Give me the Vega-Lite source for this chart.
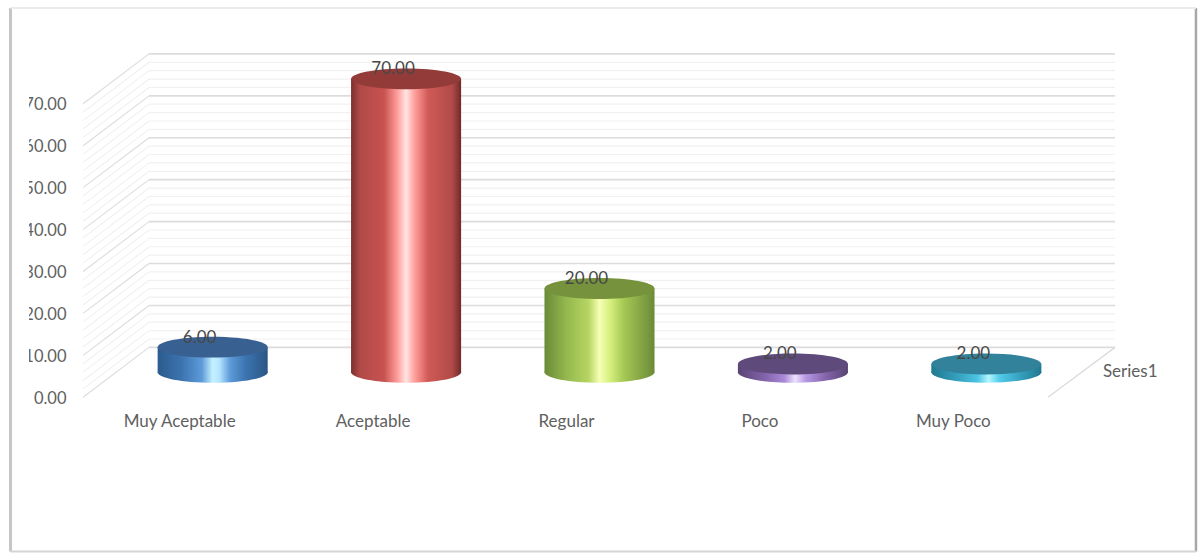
{
  "$schema": "https://vega.github.io/schema/vega-lite/v6.json",
  "width": 1199,
  "height": 554,
  "autosize": {"type": "fit", "contains": "padding"},
  "padding": 0,
  "background": "#ffffff",
  "view": {"stroke": null},
  "config": {"font": "Lato", "axis": {"grid": false, "domain": false, "ticks": false, "title": null}},
  "datasets": {
    "results": [
      {"category": "Muy Aceptable", "value": 6},
      {"category": "Aceptable", "value": 70},
      {"category": "Regular", "value": 20},
      {"category": "Poco", "value": 2},
      {"category": "Muy Poco", "value": 2}
    ],
    "levels": [
      {"level": 0, "rank": "major"}, {"level": 2, "rank": "minor"}, {"level": 4, "rank": "minor"}, {"level": 6, "rank": "minor"}, {"level": 8, "rank": "minor"},
      {"level": 10, "rank": "major"}, {"level": 12, "rank": "minor"}, {"level": 14, "rank": "minor"}, {"level": 16, "rank": "minor"}, {"level": 18, "rank": "minor"},
      {"level": 20, "rank": "major"}, {"level": 22, "rank": "minor"}, {"level": 24, "rank": "minor"}, {"level": 26, "rank": "minor"}, {"level": 28, "rank": "minor"},
      {"level": 30, "rank": "major"}, {"level": 32, "rank": "minor"}, {"level": 34, "rank": "minor"}, {"level": 36, "rank": "minor"}, {"level": 38, "rank": "minor"},
      {"level": 40, "rank": "major"}, {"level": 42, "rank": "minor"}, {"level": 44, "rank": "minor"}, {"level": 46, "rank": "minor"}, {"level": 48, "rank": "minor"},
      {"level": 50, "rank": "major"}, {"level": 52, "rank": "minor"}, {"level": 54, "rank": "minor"}, {"level": 56, "rank": "minor"}, {"level": 58, "rank": "minor"},
      {"level": 60, "rank": "major"}, {"level": 62, "rank": "minor"}, {"level": 64, "rank": "minor"}, {"level": 66, "rank": "minor"}, {"level": 68, "rank": "minor"},
      {"level": 70, "rank": "major"}
    ]
  },
  "resolve": {"scale": {"x": "independent", "y": "independent"}, "axis": {"x": "independent", "y": "independent"}},
  "layer": [
    {
      "layer": [
        {
          "data": {"name": "levels"},
          "transform": [{"calculate": "datum.level + 11.905", "as": "back"}],
          "mark": {"type": "rule"},
          "encoding": {
            "x": {"datum": -0.6706, "type": "quantitative", "scale": {"domain": [-1.1, 5.1], "nice": false, "zero": false}, "axis": null},
            "x2": {"datum": -0.3294},
            "y": {
              "field": "level", "type": "quantitative",
              "scale": {"domain": [-37.143, 94.762], "nice": false, "zero": false},
              "axis": {
                "orient": "left",
                "values": [0, 10, 20, 30, 40, 50, 60, 70],
                "format": ".2f",
                "offset": -70,
                "labelPadding": 4,
                "labelOffset": 1,
                "labelFont": "Lato",
                "labelFontSize": 16.5,
                "labelColor": "#606060"
              }
            },
            "y2": {"field": "back"},
            "color": {"field": "rank", "type": "nominal", "scale": {"domain": ["major", "minor"], "range": ["#dcdcdc", "#f1f1f1"]}, "legend": null},
            "strokeWidth": {"value": 1.1}
          }
        },
        {
          "data": {"name": "levels"},
          "transform": [{"calculate": "datum.level + 11.905", "as": "back"}],
          "mark": {"type": "rule"},
          "encoding": {
            "x": {"datum": -0.3294, "type": "quantitative"},
            "x2": {"datum": 4.666},
            "y": {"field": "back", "type": "quantitative"},
            "color": {"field": "rank", "type": "nominal", "legend": null},
            "strokeWidth": {"field": "rank", "type": "nominal", "scale": {"domain": ["major", "minor"], "range": [1.6, 1.2]}, "legend": null}
          }
        },
        {
          "data": {"values": [{"level": 0}]},
          "transform": [{"calculate": "datum.level + 11.905", "as": "back"}],
          "mark": {"type": "rule", "color": "#dcdcdc", "strokeWidth": 1.3},
          "encoding": {
            "x": {"datum": 4.319, "type": "quantitative"},
            "x2": {"datum": 4.666},
            "y": {"field": "level", "type": "quantitative"},
            "y2": {"field": "back"}
          }
        },
        {
          "data": {"values": [{"depth": "Series1"}]},
          "mark": {"type": "text", "align": "left", "baseline": "middle", "font": "Lato", "fontSize": 17, "color": "#606060"},
          "encoding": {
            "x": {"datum": 4.603, "type": "quantitative"},
            "y": {"datum": 6.0, "type": "quantitative"},
            "text": {"field": "depth"}
          }
        },
        {
          "data": {"values": [{"part": "margin"}]},
          "mark": {"type": "rect", "color": "#ffffff"},
          "encoding": {
            "x": {"datum": -1.0274, "type": "quantitative"},
            "x2": {"datum": -0.9498},
            "y": {"datum": 5, "type": "quantitative"},
            "y2": {"datum": 80}
          }
        },
        {
          "data": {"values": [{"edge": "left"}]},
          "mark": {"type": "rule", "color": "#c6c6c6", "strokeWidth": 3},
          "encoding": {
            "x": {"datum": -1.0457, "type": "quantitative"},
            "y": {"datum": 92.86, "type": "quantitative"},
            "y2": {"datum": -36.79}
          }
        },
        {
          "data": {"values": [{"edge": "right"}]},
          "mark": {"type": "rule", "color": "#a8a8a8", "strokeWidth": 2.5},
          "encoding": {
            "x": {"datum": 5.0843, "type": "quantitative"},
            "y": {"datum": 92.86, "type": "quantitative"},
            "y2": {"datum": -36.79}
          }
        },
        {
          "data": {"values": [{"edge": "top"}]},
          "mark": {"type": "rule", "color": "#ebebeb", "strokeWidth": 2},
          "encoding": {
            "x": {"datum": -1.0457, "type": "quantitative"},
            "x2": {"datum": 5.0843},
            "y": {"datum": 92.86, "type": "quantitative"}
          }
        },
        {
          "data": {"values": [{"edge": "bottom"}]},
          "mark": {"type": "rule", "color": "#d4d4d4", "strokeWidth": 2},
          "encoding": {
            "x": {"datum": -1.0457, "type": "quantitative"},
            "x2": {"datum": 5.0843},
            "y": {"datum": -36.79, "type": "quantitative"}
          }
        }
      ]
    },
    {
      "data": {"name": "results"},
      "encoding": {
        "x": {
          "field": "category", "type": "nominal",
          "scale": {"type": "band", "domain": ["Muy Aceptable", "Aceptable", "Regular", "Poco", "Muy Poco"], "paddingInner": 0.431, "paddingOuter": 0.815},
          "axis": {"orient": "bottom", "labelAngle": 0, "offset": -140, "labelPadding": 0, "labelOffset": -33, "labelFont": "Lato", "labelFontSize": 17, "labelColor": "#606060"}
        },
        "y": {
          "field": "value", "type": "quantitative", "stack": null,
          "scale": {"domain": [-43.095, 88.81], "nice": false, "zero": false},
          "axis": null
        }
      },
      "layer": [
        {
          "transform": [{"filter": "datum.category === 'Muy Aceptable'"}],
          "layer": [
            {"mark": {"type": "bar", "color": {"gradient": "linear", "x1": 0, "x2": 1, "y1": 0, "y2": 0, "stops": [{"offset": 0, "color": "#2c5a8c"}, {"offset": 0.22, "color": "#3c74b0"}, {"offset": 0.4, "color": "#5c9ad8"}, {"offset": 0.5, "color": "#c4f0ff"}, {"offset": 0.56, "color": "#b4e4ff"}, {"offset": 0.66, "color": "#5c9ad8"}, {"offset": 0.8, "color": "#3c74b0"}, {"offset": 1, "color": "#2a5685"}]}}, "encoding": {"y2": {"datum": 0}}},
            {"mark": {"type": "point", "filled": true, "opacity": 1, "size": 12100, "shape": "M-1,0A1,0.19 0 1,0 1,0A1,0.19 0 1,0 -1,0Z", "color": {"gradient": "linear", "x1": 0, "x2": 1, "y1": 0, "y2": 0, "stops": [{"offset": 0, "color": "#2c5a8c"}, {"offset": 0.22, "color": "#3c74b0"}, {"offset": 0.4, "color": "#5c9ad8"}, {"offset": 0.5, "color": "#c4f0ff"}, {"offset": 0.56, "color": "#b4e4ff"}, {"offset": 0.66, "color": "#5c9ad8"}, {"offset": 0.8, "color": "#3c74b0"}, {"offset": 1, "color": "#2a5685"}]}}, "encoding": {"y": {"datum": 0, "type": "quantitative"}}},
            {"mark": {"type": "point", "filled": true, "opacity": 1, "size": 12100, "shape": "M-1,0A1,0.19 0 1,0 1,0A1,0.19 0 1,0 -1,0Z", "color": "#386192"}}
          ]
        },
        {
          "transform": [{"filter": "datum.category === 'Aceptable'"}],
          "layer": [
            {"mark": {"type": "bar", "color": {"gradient": "linear", "x1": 0, "x2": 1, "y1": 0, "y2": 0, "stops": [{"offset": 0, "color": "#7c2f2d"}, {"offset": 0.08, "color": "#b04a48"}, {"offset": 0.3, "color": "#c8524f"}, {"offset": 0.42, "color": "#ff9d9a"}, {"offset": 0.5, "color": "#ffe5e3"}, {"offset": 0.58, "color": "#ff9d9a"}, {"offset": 0.7, "color": "#d05a56"}, {"offset": 0.92, "color": "#b04a48"}, {"offset": 1, "color": "#6f2a29"}]}}, "encoding": {"y2": {"datum": 0}}},
            {"mark": {"type": "point", "filled": true, "opacity": 1, "size": 12100, "shape": "M-1,0A1,0.19 0 1,0 1,0A1,0.19 0 1,0 -1,0Z", "color": {"gradient": "linear", "x1": 0, "x2": 1, "y1": 0, "y2": 0, "stops": [{"offset": 0, "color": "#7c2f2d"}, {"offset": 0.08, "color": "#b04a48"}, {"offset": 0.3, "color": "#c8524f"}, {"offset": 0.42, "color": "#ff9d9a"}, {"offset": 0.5, "color": "#ffe5e3"}, {"offset": 0.58, "color": "#ff9d9a"}, {"offset": 0.7, "color": "#d05a56"}, {"offset": 0.92, "color": "#b04a48"}, {"offset": 1, "color": "#6f2a29"}]}}, "encoding": {"y": {"datum": 0, "type": "quantitative"}}},
            {"mark": {"type": "point", "filled": true, "opacity": 1, "size": 12100, "shape": "M-1,0A1,0.19 0 1,0 1,0A1,0.19 0 1,0 -1,0Z", "color": "#933b39"}}
          ]
        },
        {
          "transform": [{"filter": "datum.category === 'Regular'"}],
          "layer": [
            {"mark": {"type": "bar", "color": {"gradient": "linear", "x1": 0, "x2": 1, "y1": 0, "y2": 0, "stops": [{"offset": 0, "color": "#6b8a38"}, {"offset": 0.2, "color": "#95b84e"}, {"offset": 0.4, "color": "#b6d562"}, {"offset": 0.5, "color": "#f6ffb4"}, {"offset": 0.6, "color": "#d4ee7c"}, {"offset": 0.72, "color": "#a6c855"}, {"offset": 1, "color": "#6b8a38"}]}}, "encoding": {"y2": {"datum": 0}}},
            {"mark": {"type": "point", "filled": true, "opacity": 1, "size": 12100, "shape": "M-1,0A1,0.19 0 1,0 1,0A1,0.19 0 1,0 -1,0Z", "color": {"gradient": "linear", "x1": 0, "x2": 1, "y1": 0, "y2": 0, "stops": [{"offset": 0, "color": "#6b8a38"}, {"offset": 0.2, "color": "#95b84e"}, {"offset": 0.4, "color": "#b6d562"}, {"offset": 0.5, "color": "#f6ffb4"}, {"offset": 0.6, "color": "#d4ee7c"}, {"offset": 0.72, "color": "#a6c855"}, {"offset": 1, "color": "#6b8a38"}]}}, "encoding": {"y": {"datum": 0, "type": "quantitative"}}},
            {"mark": {"type": "point", "filled": true, "opacity": 1, "size": 12100, "shape": "M-1,0A1,0.19 0 1,0 1,0A1,0.19 0 1,0 -1,0Z", "color": "#76923c"}}
          ]
        },
        {
          "transform": [{"filter": "datum.category === 'Poco'"}],
          "layer": [
            {"mark": {"type": "bar", "color": {"gradient": "linear", "x1": 0, "x2": 1, "y1": 0, "y2": 0, "stops": [{"offset": 0, "color": "#594473"}, {"offset": 0.25, "color": "#8364ab"}, {"offset": 0.42, "color": "#a988d6"}, {"offset": 0.52, "color": "#ecdfff"}, {"offset": 0.62, "color": "#b596e2"}, {"offset": 0.8, "color": "#8364ab"}, {"offset": 1, "color": "#594473"}]}}, "encoding": {"y2": {"datum": 0}}},
            {"mark": {"type": "point", "filled": true, "opacity": 1, "size": 12100, "shape": "M-1,0A1,0.19 0 1,0 1,0A1,0.19 0 1,0 -1,0Z", "color": {"gradient": "linear", "x1": 0, "x2": 1, "y1": 0, "y2": 0, "stops": [{"offset": 0, "color": "#594473"}, {"offset": 0.25, "color": "#8364ab"}, {"offset": 0.42, "color": "#a988d6"}, {"offset": 0.52, "color": "#ecdfff"}, {"offset": 0.62, "color": "#b596e2"}, {"offset": 0.8, "color": "#8364ab"}, {"offset": 1, "color": "#594473"}]}}, "encoding": {"y": {"datum": 0, "type": "quantitative"}}},
            {"mark": {"type": "point", "filled": true, "opacity": 1, "size": 12100, "shape": "M-1,0A1,0.19 0 1,0 1,0A1,0.19 0 1,0 -1,0Z", "color": "#5f4a7c"}}
          ]
        },
        {
          "transform": [{"filter": "datum.category === 'Muy Poco'"}],
          "layer": [
            {"mark": {"type": "bar", "color": {"gradient": "linear", "x1": 0, "x2": 1, "y1": 0, "y2": 0, "stops": [{"offset": 0, "color": "#21788f"}, {"offset": 0.25, "color": "#36a2c0"}, {"offset": 0.42, "color": "#4cc4e4"}, {"offset": 0.52, "color": "#b4f6ff"}, {"offset": 0.62, "color": "#52cbe9"}, {"offset": 0.8, "color": "#36a2c0"}, {"offset": 1, "color": "#21788f"}]}}, "encoding": {"y2": {"datum": 0}}},
            {"mark": {"type": "point", "filled": true, "opacity": 1, "size": 12100, "shape": "M-1,0A1,0.19 0 1,0 1,0A1,0.19 0 1,0 -1,0Z", "color": {"gradient": "linear", "x1": 0, "x2": 1, "y1": 0, "y2": 0, "stops": [{"offset": 0, "color": "#21788f"}, {"offset": 0.25, "color": "#36a2c0"}, {"offset": 0.42, "color": "#4cc4e4"}, {"offset": 0.52, "color": "#b4f6ff"}, {"offset": 0.62, "color": "#52cbe9"}, {"offset": 0.8, "color": "#36a2c0"}, {"offset": 1, "color": "#21788f"}]}}, "encoding": {"y": {"datum": 0, "type": "quantitative"}}},
            {"mark": {"type": "point", "filled": true, "opacity": 1, "size": 12100, "shape": "M-1,0A1,0.19 0 1,0 1,0A1,0.19 0 1,0 -1,0Z", "color": "#31829a"}}
          ]
        },
        {
          "mark": {"type": "text", "dx": -13, "dy": -9.5, "baseline": "middle", "font": "Lato", "fontSize": 17, "color": "#484848"},
          "encoding": {"text": {"field": "value", "type": "quantitative", "format": ".2f"}}
        }
      ]
    }
  ]
}
